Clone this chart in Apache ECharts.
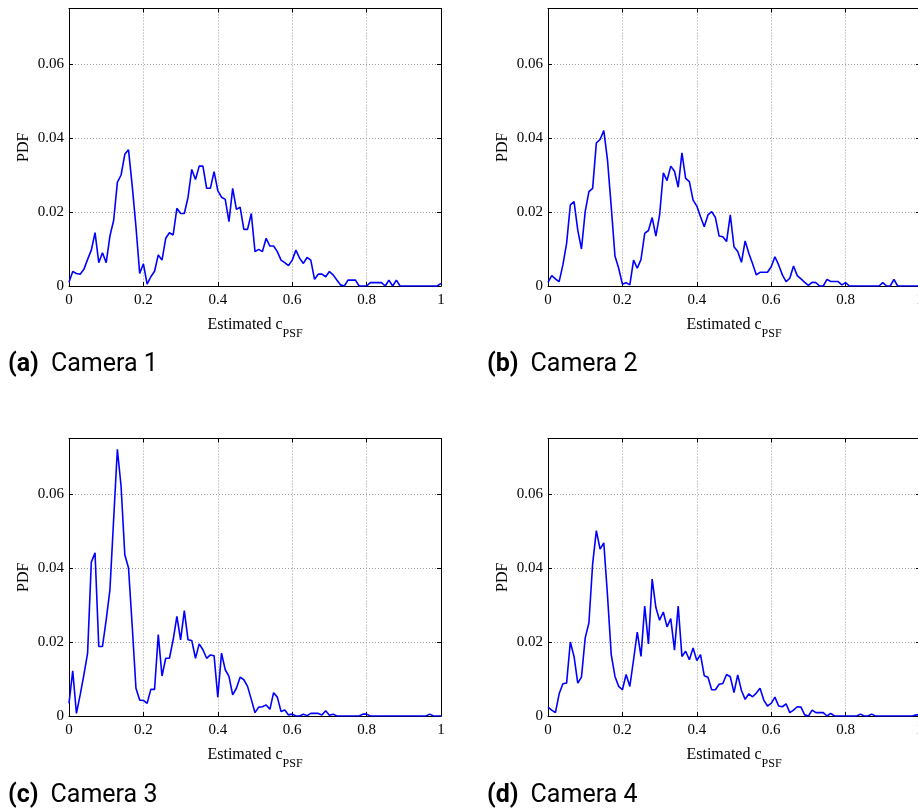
<!DOCTYPE html>
<html>
<head>
<meta charset="utf-8">
<script src="https://cdn.jsdelivr.net/npm/echarts@6/dist/echarts.min.js"></script>
<style>
html,body{margin:0;padding:0;background:#fff;}
#chart{width:918px;height:812px;}
</style>
</head>
<body>
<div id="chart"></div>
<script>
// ---- Data (PDF of estimated c_PSF per camera, bins of width 0.01 from 0 to 1) ----
const binWidth = 0.01;
const xTickValues = [0, 0.2, 0.4, 0.6, 0.8, 1];
const yTickValues = [0, 0.02, 0.04, 0.06];

const camera1 = [
  0.001, 0.0039, 0.0034, 0.0032, 0.0045, 0.0072, 0.0097, 0.0144, 0.0063, 0.009,
  0.0063, 0.0135, 0.0177, 0.028, 0.030, 0.0356, 0.0368, 0.027, 0.016, 0.0034,
  0.006, 0.0005, 0.0025, 0.004, 0.0084, 0.007, 0.0129, 0.0144, 0.0138, 0.021,
  0.0196, 0.0196, 0.024, 0.0315, 0.0288, 0.0324, 0.0324, 0.0264, 0.0264, 0.0309,
  0.0258, 0.024, 0.0234, 0.0174, 0.0264, 0.0207, 0.0213, 0.0153, 0.0153, 0.0196,
  0.0093, 0.0099, 0.0093, 0.0129, 0.0108, 0.0108, 0.0093, 0.007, 0.0063, 0.0055,
  0.007, 0.0097, 0.0075, 0.0061, 0.0077, 0.007, 0.0018, 0.0032, 0.0032, 0.0025,
  0.0039, 0.003, 0.0016, 0.0003, 0, 0.0016, 0.0016, 0.0016, 0, 0,
  0, 0.0009, 0.0009, 0.0009, 0.0009, 0, 0.0016, 0, 0.0016, 0,
  0, 0, 0, 0, 0, 0, 0, 0, 0, 0,
  0.0007
];

const camera2 = [
  0.001, 0.0028, 0.0019, 0.0012, 0.0057, 0.0115, 0.0219, 0.0228, 0.0151, 0.01,
  0.0201, 0.0255, 0.0264, 0.0387, 0.0396, 0.042, 0.034, 0.0214, 0.0081, 0.0048,
  0.0005, 0.0009, 0.0003, 0.007, 0.0048, 0.0072, 0.0142, 0.015, 0.0185, 0.0135,
  0.0192, 0.0306, 0.0285, 0.0324, 0.031, 0.0267, 0.036, 0.0291, 0.0282, 0.0232,
  0.0216, 0.0187, 0.016, 0.0192, 0.0201, 0.0185, 0.0135, 0.0133, 0.012, 0.0192,
  0.0106, 0.0093, 0.0064, 0.0122, 0.0088, 0.006, 0.003, 0.0037, 0.0037, 0.0037,
  0.0052, 0.0079, 0.0057, 0.003, 0.0012, 0.0021, 0.0054, 0.0028, 0.0019, 0.001,
  0.0002, 0.001, 0.0009, 0, 0, 0.0018, 0.0012, 0.0012, 0.0012, 0.0003,
  0.0009, 0, 0, 0, 0, 0, 0, 0, 0, 0,
  0.0009, 0, 0, 0.0018, 0, 0, 0, 0, 0, 0,
  0
];

const camera3 = [
  0.0034, 0.0122, 0.0007, 0.0057, 0.0111, 0.017, 0.0416, 0.0441, 0.0188, 0.0188,
  0.026, 0.0341, 0.0531, 0.0721, 0.0621, 0.0436, 0.04, 0.0242, 0.0075, 0.0043,
  0.0042, 0.0034, 0.0072, 0.0072, 0.022, 0.0108, 0.0156, 0.0156, 0.0206, 0.0269,
  0.0206, 0.0285, 0.0206, 0.0204, 0.0156, 0.0195, 0.0179, 0.0156, 0.0165, 0.0163,
  0.0051, 0.017, 0.0125, 0.0107, 0.0057, 0.0075, 0.0105, 0.0098, 0.008, 0.0045,
  0.0009, 0.0024, 0.0025, 0.003, 0.0018, 0.0063, 0.0051, 0.0012, 0.0016, 0.0003,
  0.0005, 0, 0, 0.0005, 0.0001, 0.0007, 0.0007, 0.0007, 0.0003, 0.0014,
  0.0002, 0.0005, 0, 0, 0, 0, 0, 0, 0, 0.0005,
  0.0005, 0, 0, 0, 0, 0, 0, 0, 0, 0,
  0, 0, 0, 0, 0, 0, 0, 0.0005, 0, 0,
  0
];

const camera4 = [
  0.0024, 0.0016, 0.0009, 0.006, 0.0087, 0.0089, 0.02, 0.0161, 0.0089, 0.0105,
  0.0211, 0.0252, 0.0411, 0.0501, 0.0451, 0.0468, 0.0325, 0.0166, 0.0107, 0.008,
  0.0071, 0.0112, 0.008, 0.0152, 0.0227, 0.0161, 0.0297, 0.0195, 0.037, 0.0293,
  0.0259, 0.0281, 0.0241, 0.0263, 0.0178, 0.0297, 0.0161, 0.0175, 0.0152, 0.0184,
  0.015, 0.0166, 0.0109, 0.0105, 0.0071, 0.0071, 0.0086, 0.0088, 0.0112, 0.0106,
  0.0063, 0.0111, 0.0069, 0.0045, 0.006, 0.0052, 0.0062, 0.0075, 0.0043, 0.0027,
  0.0034, 0.0051, 0.0027, 0.0025, 0.0033, 0.0009, 0.0016, 0.0025, 0.0024, 0.0003,
  0, 0.0016, 0.0009, 0.0009, 0.0009, 0, 0.0007, 0, 0, 0,
  0, 0, 0, 0, 0.0005, 0, 0, 0.0005, 0, 0,
  0, 0, 0, 0, 0, 0, 0, 0, 0, 0.0003,
  0.0003
];

const panelSeries = [camera1, camera2, camera3, camera4];
const panelTags = ['(a)', '(b)', '(c)', '(d)'];
const panelTitles = ['Camera 1', 'Camera 2', 'Camera 3', 'Camera 4'];
const xAxisName = 'Estimated c';
const xAxisSub = 'PSF';
const yAxisName = 'PDF';

// ---- Layout ----
const layout = [
  { left: 69,  top: 8.5,   capX: 8,   capY: 365 },
  { left: 548, top: 8.5,   capX: 487, capY: 365 },
  { left: 69,  top: 438.5, capX: 8,   capY: 796 },
  { left: 548, top: 438.5, capX: 487, capY: 796 }
];
const gridW = 372, gridH = 277.5;
const serif = '"Liberation Serif", "Times New Roman", serif';

const grids = [], xAxes = [], yAxes = [], series = [], graphics = [];
const tickStyle = { show: true, inside: true, length: 4, lineStyle: { color: '#000', width: 1 } };
const axisLineStyle = { show: true, onZero: false, lineStyle: { color: '#000', width: 1 } };
const gridLine = { show: true, lineStyle: { color: '#9a9a9a', width: 1, type: [1, 2] } };

panelSeries.forEach((vals, i) => {
  const L = layout[i];
  grids.push({ left: L.left, top: L.top, width: gridW, height: gridH, containLabel: false, outerBoundsMode: 'none' });
  const xmin = xTickValues[0], xmax = xTickValues[xTickValues.length - 1];
  const ymin = yTickValues[0], ystep = yTickValues[1] - yTickValues[0];
  xAxes.push({
    type: 'value', gridIndex: i, position: 'bottom', min: xmin, max: xmax, interval: 0.2,
    axisLine: axisLineStyle, axisTick: tickStyle, splitLine: gridLine,
    axisLabel: { color: '#000', fontFamily: serif, fontSize: 15, margin: 7 },
    name: '{m|' + xAxisName + '}{s|' + xAxisSub + '}', nameLocation: 'middle', nameGap: 24,
    nameTextStyle: {
      color: '#000', fontFamily: serif, fontSize: 16,
      rich: {
        m: { fontFamily: serif, fontSize: 16, color: '#000', lineHeight: 30 },
        s: { fontFamily: serif, fontSize: 12, color: '#000', lineHeight: 14, verticalAlign: 'bottom' }
      }
    }
  });
  xAxes.push({
    type: 'value', gridIndex: i, position: 'top', min: xmin, max: xmax, interval: 0.2,
    axisLine: axisLineStyle, axisTick: tickStyle, splitLine: { show: false },
    axisLabel: { show: false }
  });
  yAxes.push({
    type: 'value', gridIndex: i, position: 'left', min: ymin, max: 0.075, interval: ystep,
    axisLine: axisLineStyle, axisTick: tickStyle, splitLine: gridLine,
    axisLabel: { color: '#000', fontFamily: serif, fontSize: 15, margin: 5, showMaxLabel: false },
    name: yAxisName, nameLocation: 'middle', nameGap: 37,
    nameTextStyle: { color: '#000', fontFamily: serif, fontSize: 16 }
  });
  yAxes.push({
    type: 'value', gridIndex: i, position: 'right', min: ymin, max: 0.075, interval: ystep,
    axisLine: axisLineStyle, axisTick: tickStyle, splitLine: { show: false },
    axisLabel: { show: false }
  });
  series.push({
    type: 'line', xAxisIndex: 2 * i, yAxisIndex: 2 * i,
    data: vals.map((v, k) => [+(k * binWidth).toFixed(2), v]),
    showSymbol: false, symbol: 'none', smooth: false,
    lineStyle: { color: '#0000ff', width: 1.6 },
    silent: true, animation: false
  });
  graphics.push({
    type: 'text', x: L.capX, y: L.capY,
    style: {
      text: '{b|' + panelTags[i] + '}{n|' + panelTitles[i] + '}',
      verticalAlign: 'middle', align: 'left',
      rich: {
        b: { fontFamily: 'Roboto', fontSize: 25, fontWeight: 'bold', fill: '#000', padding: [0, 12, 0, 0] },
        n: { fontFamily: 'Roboto', fontSize: 25, fill: '#000' }
      }
    }
  });
});

const chart = echarts.init(document.getElementById('chart'), null, { renderer: 'canvas' });
chart.setOption({
  backgroundColor: '#fff',
  animation: false,
  grid: grids,
  xAxis: xAxes,
  yAxis: yAxes,
  series: series,
  graphic: graphics
});
</script>
</body>
</html>
